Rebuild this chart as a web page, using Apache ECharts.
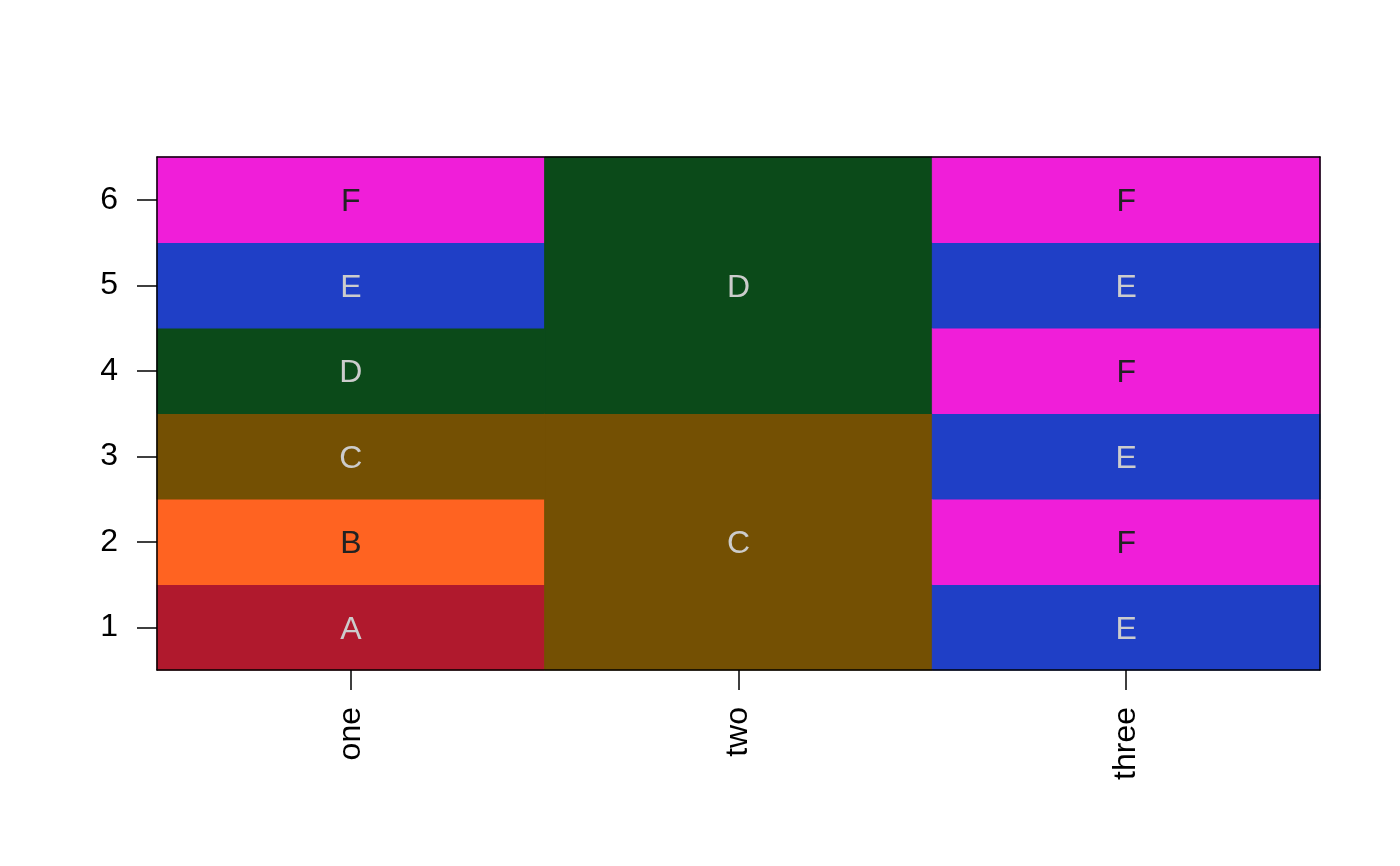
<!DOCTYPE html>
<html>
<head>
<meta charset="utf-8">
<script src="https://cdn.jsdelivr.net/npm/echarts@6/dist/echarts.min.js"></script>
<style>html,body{margin:0;padding:0;background:#fff}#c{width:1400px;height:866px}</style>
</head>
<body>
<div id="c"></div>
<script>
// Data
const columns = ['one', 'two', 'three'];
const rows = ['1', '2', '3', '4', '5', '6'];
// segments: column index, first row index, last row index, label
const segCol   = [0, 0, 0, 0, 0, 0, 1, 1, 2, 2, 2, 2, 2, 2];
const segStart = [0, 1, 2, 3, 4, 5, 0, 3, 0, 1, 2, 3, 4, 5];
const segEnd   = [0, 1, 2, 3, 4, 5, 2, 5, 0, 1, 2, 3, 4, 5];
const segLabel = ['A', 'B', 'C', 'D', 'E', 'F', 'C', 'D', 'E', 'F', 'E', 'F', 'E', 'F'];

const fillColors = {A: '#B0192D', B: '#FF6321', C: '#745003', D: '#0B4A19', E: '#1F3FC6', F: '#F01ED9'};
const textColors = {A: '#CCCCCC', B: '#222222', C: '#CCCCCC', D: '#CCCCCC', E: '#CCCCCC', F: '#222222'};

const seriesData = segCol.map((c, i) => [c, segStart[i], segEnd[i], segLabel[i]]);

const FONT = '"Liberation Sans", Arial, sans-serif';
const FS = 32;
const chart = echarts.init(document.getElementById('c'), null, {renderer: 'canvas'});

const axisCommon = {
  axisLine: {show: true, lineStyle: {color: '#000', width: 1.5}},
  axisTick: {show: true, length: 20, alignWithLabel: true, lineStyle: {color: '#000', width: 1.5}},
  splitLine: {show: false},
  z: 10
};

chart.setOption({
  animation: false,
  backgroundColor: '#fff',
  grid: {left: 157, right: 80, top: 157, bottom: 196},
  xAxis: [
    Object.assign({}, axisCommon, {
      type: 'category', data: columns, position: 'bottom', boundaryGap: true,
      axisLabel: {rotate: 90, margin: 37, fontSize: FS, color: '#000', fontFamily: FONT, padding: [5, 0, 0, 0]}
    }),
    {type: 'category', data: columns, position: 'top', boundaryGap: true, z: 10,
     axisLine: {show: true, lineStyle: {color: '#000', width: 1.5}},
     axisTick: {show: false}, axisLabel: {show: false}, splitLine: {show: false}}
  ],
  yAxis: [
    Object.assign({}, axisCommon, {
      type: 'category', data: rows, position: 'left', boundaryGap: true,
      axisLabel: {margin: 39, fontSize: FS, color: '#000', fontFamily: FONT, padding: [5, 0, 0, 0]}
    }),
    {type: 'category', data: rows, position: 'right', boundaryGap: true, z: 10,
     axisLine: {show: true, lineStyle: {color: '#000', width: 1.5}},
     axisTick: {show: false}, axisLabel: {show: false}, splitLine: {show: false}}
  ],
  series: [{
    type: 'custom',
    xAxisIndex: 0, yAxisIndex: 0,
    data: seriesData,
    z: 2,
    renderItem: function (params, api) {
      const col = api.value(0), s = api.value(1), e = api.value(2);
      const lab = seriesData[params.dataIndex][3];
      const size = api.size([1, 1]);
      const pS = api.coord([col, s]);
      const pE = api.coord([col, e]);
      const x = pS[0] - size[0] / 2;
      const yTop = pE[1] - size[1] / 2;
      const yBot = pS[1] + size[1] / 2;
      return {
        type: 'group',
        children: [
          {type: 'rect', shape: {x: x, y: yTop, width: size[0], height: yBot - yTop},
           style: {fill: fillColors[lab], stroke: fillColors[lab], lineWidth: 1}},
          {type: 'text', z2: 5, style: {x: pS[0], y: (yTop + yBot) / 2 + 2.5, text: lab,
            fill: textColors[lab], font: FS + 'px ' + FONT, align: 'center', verticalAlign: 'middle'}}
        ]
      };
    }
  }]
});
</script>
</body>
</html>
